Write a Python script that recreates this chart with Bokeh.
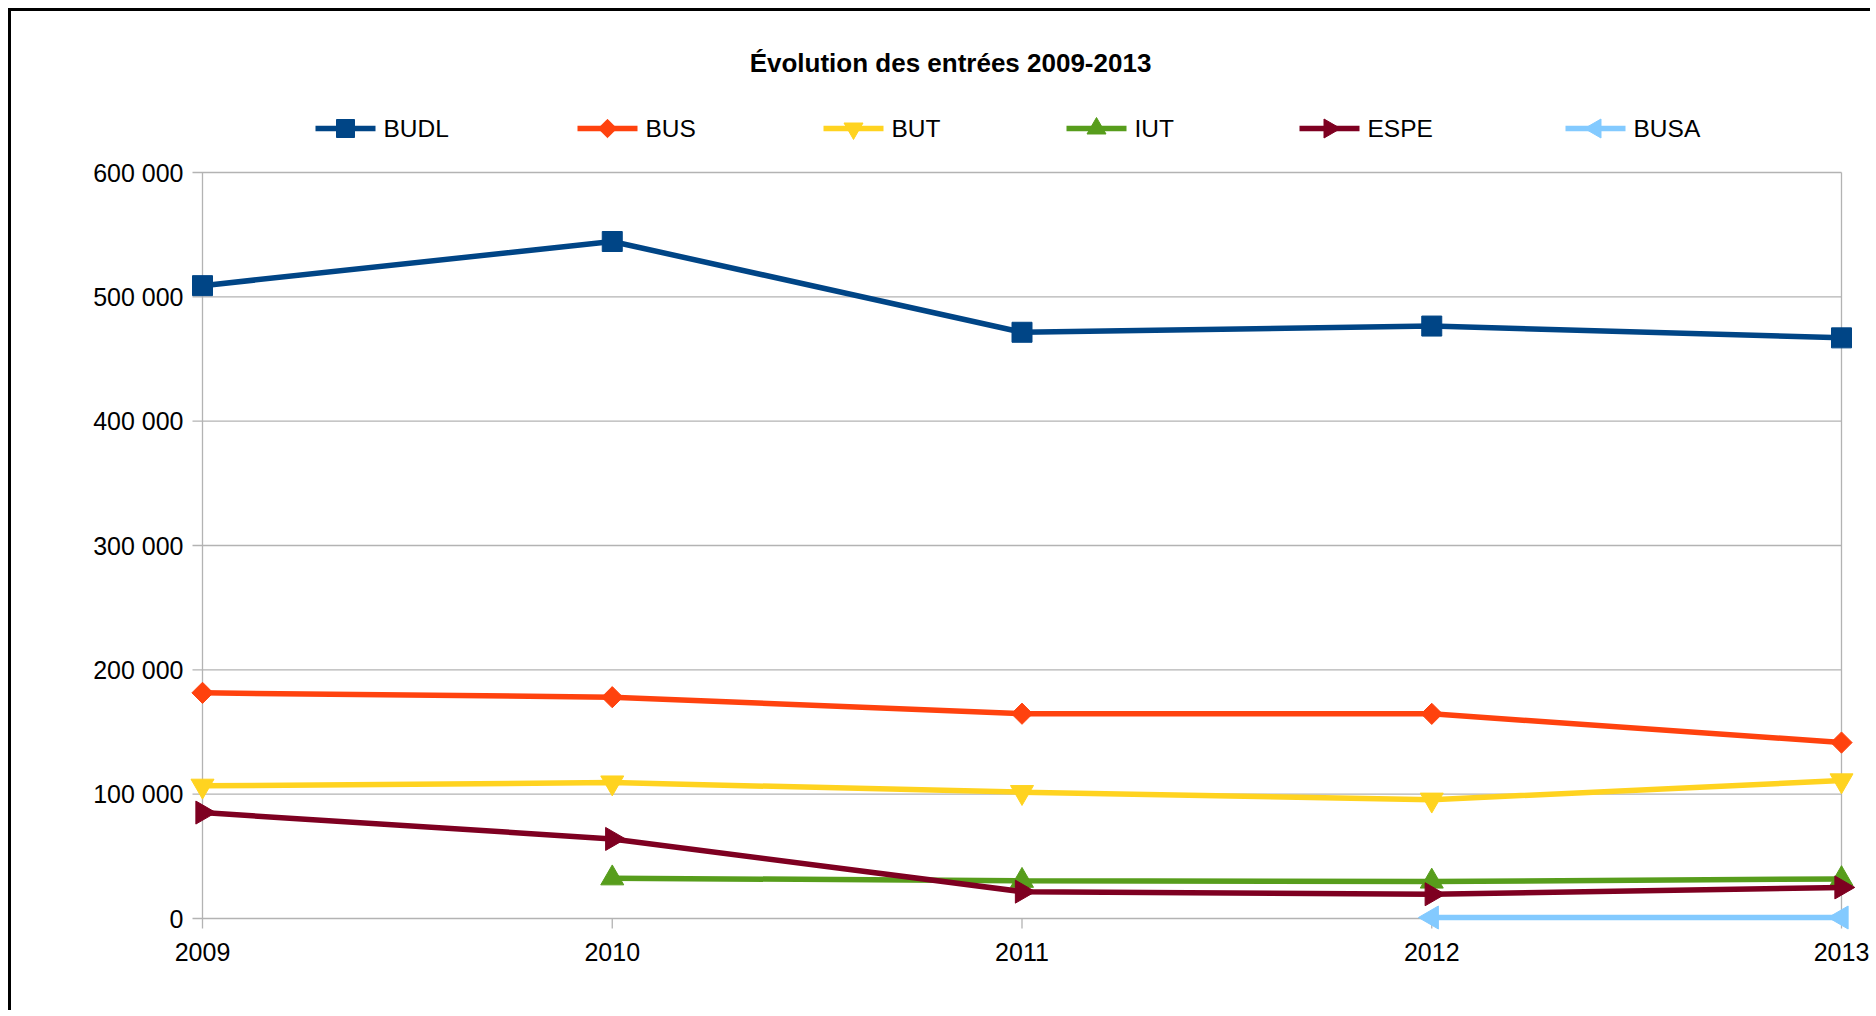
import math
from bokeh.plotting import figure
from bokeh.models import Range1d, FixedTicker, Label
from bokeh.core.properties import value
from bokeh.embed import file_html
from bokeh.resources import INLINE

# ---------------- data ----------------
title_text = "Évolution des entrées 2009-2013"
years = [2009, 2010, 2011, 2012, 2013]
x_tick_labels = ["2009", "2010", "2011", "2012", "2013"]
y_ticks = [0, 100000, 200000, 300000, 400000, 500000, 600000]
y_tick_labels = ["0", "100 000", "200 000", "300 000", "400 000", "500 000", "600 000"]

series_names = ["BUDL", "BUS", "BUT", "IUT", "ESPE", "BUSA"]
budl_years = [2009, 2010, 2011, 2012, 2013]
budl = [509000, 544500, 471500, 476500, 467000]
bus_years = [2009, 2010, 2011, 2012, 2013]
bus = [181500, 178000, 164700, 164600, 141500]
but_years = [2009, 2010, 2011, 2012, 2013]
but = [106700, 109300, 101600, 95500, 111000]
iut_years = [2010, 2011, 2012, 2013]
iut = [32400, 30400, 29800, 31800]
espe_years = [2009, 2010, 2011, 2012, 2013]
espe = [85200, 64000, 21600, 19500, 25000]
busa_years = [2012, 2013]
busa = [800, 800]

# ---------------- layout (pixels inside the figure) ----------------
W, H = 1862, 1002
ML, MR, MT, MB = 177, 18, 20, 81
FW = W - ML - MR
FH = H - MT - MB
PAD = 14                      # room around the data area for markers
DATA_LEFT = ML + PAD          # pixel column of the first year
DATA_TOP = 161                # pixel row of the top y tick
DATA_BOTTOM = H - MB - PAD    # pixel row of y = 0
TICK = 10

x_span = years[-1] - years[0]
y_span = y_ticks[-1] - y_ticks[0]
px_per_x = (FW - 2 * PAD) / x_span
px_per_y = (DATA_BOTTOM - DATA_TOP) / y_span
x_pad = PAD / px_per_x
y_lo = y_ticks[0] - PAD / px_per_y
y_hi = y_ticks[-1] + (DATA_TOP - MT) / px_per_y


def sx_to_data(px):
    return years[0] + (px - DATA_LEFT) / px_per_x


def sy_to_data(py):
    return y_ticks[-1] + (DATA_TOP - py) / px_per_y


GRID = "#b3b3b3"
FONT = "Liberation Sans"

p = figure(width=W, height=H,
           x_range=Range1d(years[0] - x_pad, years[-1] + x_pad),
           y_range=Range1d(y_lo, y_hi),
           min_border_left=ML, min_border_right=MR,
           min_border_top=MT, min_border_bottom=MB,
           toolbar_location=None, output_backend="svg",
           title_location=None)
p.outline_line_color = None
p.background_fill_color = "white"
p.border_fill_color = "white"
p.grid.visible = False
p.styles = {"margin-left": "8px", "margin-top": "8px",
            "border-left": "3px solid #000", "border-top": "3px solid #000"}

for ax in (p.xaxis[0], p.yaxis[0]):
    ax.axis_line_color = None
    ax.major_tick_line_color = None
    ax.major_tick_in = 0
    ax.major_tick_out = 0
    ax.minor_tick_line_color = None
    ax.major_label_text_font = FONT
    ax.major_label_text_font_size = "25px"
    ax.major_label_text_color = "black"

p.xaxis.ticker = FixedTicker(ticks=years)
p.yaxis.ticker = FixedTicker(ticks=y_ticks)
p.xaxis.major_label_overrides = dict(zip(years, x_tick_labels))
p.yaxis.major_label_overrides = dict(zip(y_ticks, y_tick_labels))
p.xaxis.major_label_standoff = 10
p.yaxis.major_label_standoff = 5

# grid / axis lines and tick marks, drawn between first and last year
tx = TICK / px_per_x
ty = TICK / px_per_y
p.segment(x0=[years[0] - tx] * len(y_ticks), y0=y_ticks,
          x1=[years[-1]] * len(y_ticks), y1=y_ticks,
          line_color=GRID, line_width=1.3)
p.segment(x0=years, y0=[y_ticks[0] - ty] * len(years), x1=years,
          y1=[y_ticks[-1] if yr in (years[0], years[-1]) else y_ticks[0] for yr in years],
          line_color=GRID, line_width=1.3)

series_x = [budl_years, bus_years, but_years, iut_years, espe_years, busa_years]
series_y = [budl, bus, but, iut, espe, busa]
colors = ["#004586", "#ff420e", "#ffd320", "#579d1c", "#7e0021", "#83caff"]
markers = ["square", "square", "inverted_triangle", "triangle", "triangle", "triangle"]
sizes = [20, 15, 23, 23, 23, 23]
angles = [0.0, math.pi / 4, 0.0, 0.0, -math.pi / 2, math.pi / 2]
legend_sizes = [18, 13, 19, 19, 19, 19]

for xs, ys, color, marker, size, angle in zip(series_x, series_y, colors, markers, sizes, angles):
    p.line(xs, ys, line_color=color, line_width=5.5)
    p.scatter(xs, ys, marker=marker, size=size, angle=angle,
              fill_color=color, line_color=color)

# ---------------- legend (drawn above the data area) ----------------
LEG_X = [304, 566, 812, 1055, 1288, 1554]   # pixel column where each key starts
LEG_Y = 117                                  # pixel row of the legend centre
KEY_W = 60
KEY_GAP = 8
ly = sy_to_data(LEG_Y)
lx0 = [sx_to_data(px) for px in LEG_X]
lx1 = [sx_to_data(px + KEY_W) for px in LEG_X]
lxm = [sx_to_data(px + KEY_W / 2) for px in LEG_X]
ltx = [sx_to_data(px + KEY_W + KEY_GAP) for px in LEG_X]
p.segment(x0=lx0, y0=[ly] * 6, x1=lx1, y1=[ly] * 6, line_color=colors, line_width=5.5)
for xm, color, marker, size, angle in zip(lxm, colors, markers, legend_sizes, angles):
    p.scatter([xm], [ly], marker=marker, size=size, angle=angle,
              fill_color=color, line_color=color)
p.text(x=ltx, y=[ly] * 6, text=series_names, text_baseline="middle",
       text_align="left", text_font=value(FONT), text_font_size="24.5px",
       text_color="black")

title = Label(x=939 - ML, y=H - MB - 51, x_units="screen", y_units="screen",
              text=title_text, text_align="center", text_baseline="middle",
              text_font=FONT, text_font_style="bold", text_font_size="26px",
              text_color="black")
p.add_layout(title)

with open("out.html", "w", encoding="utf-8") as f:
    f.write(file_html(p, INLINE))
